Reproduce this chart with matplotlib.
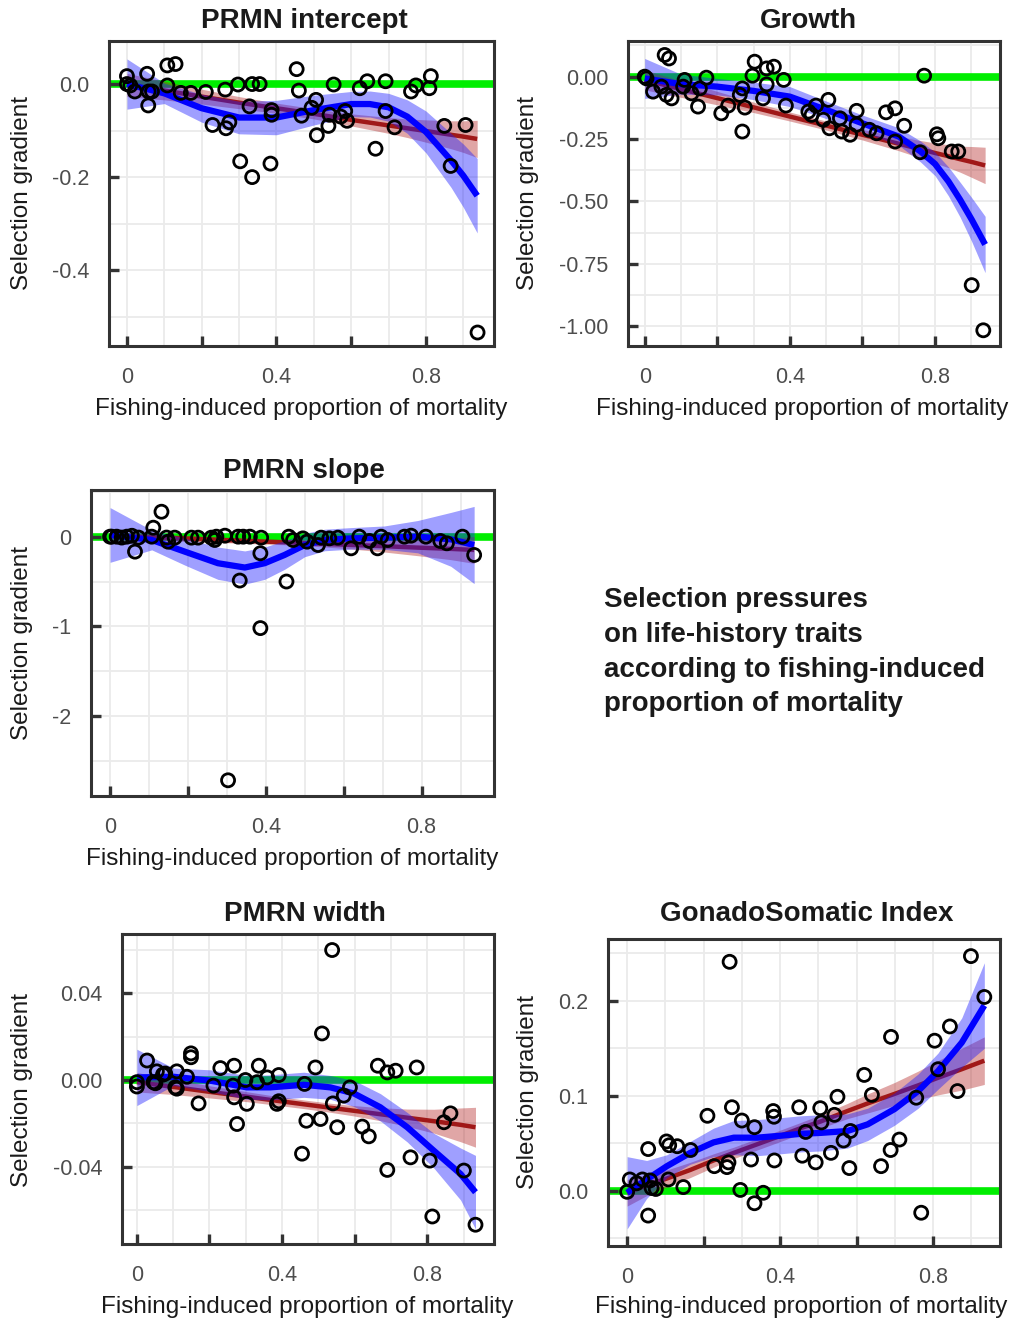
import numpy as np
import matplotlib
matplotlib.use("Agg")
import matplotlib.pyplot as plt
from matplotlib.ticker import FixedLocator

plt.rcParams['font.family'] = ['Liberation Sans', 'DejaVu Sans']
plt.rcParams['axes.unicode_minus'] = False

W, H = 1018, 1323

# ---- PRMN intercept ----
int_x = [0.000, 0.000, 0.009, 0.021, 0.054, 0.058, 0.057, 0.067, 0.108, 0.130, 0.108, 0.144,
         0.171, 0.211, 0.229, 0.263, 0.265, 0.274, 0.297, 0.303, 0.328, 0.335, 0.355, 0.335,
         0.384, 0.387, 0.387, 0.454, 0.460, 0.467, 0.494, 0.506, 0.508, 0.539, 0.542, 0.553,
         0.572, 0.584, 0.589, 0.623, 0.643, 0.665, 0.692, 0.692, 0.716, 0.760, 0.773, 0.809,
         0.813, 0.849, 0.866, 0.906, 0.938]
int_y = [0.017, 0.000, -0.003, -0.016, 0.022, -0.016, -0.046, -0.016, 0.040, 0.043, -0.003, -0.019,
         -0.019, -0.017, -0.088, -0.012, -0.095, -0.082, -0.001, -0.166, -0.048, 0.000, 0.000, -0.200,
         -0.171, -0.056, -0.066, 0.032, -0.014, -0.068, -0.051, -0.034, -0.110, -0.090, -0.066, -0.001,
         -0.070, -0.058, -0.079, -0.009, 0.006, -0.139, 0.006, -0.058, -0.093, -0.016, -0.003, -0.009,
         0.017, -0.090, -0.176, -0.088, -0.534]
int_cx = [0.0, 0.1, 0.2, 0.3, 0.4, 0.5, 0.6, 0.65, 0.7, 0.75, 0.8, 0.867, 0.9, 0.937]
int_blue = [0.000, -0.020, -0.052, -0.072, -0.072, -0.056, -0.043, -0.043, -0.050, -0.070, -0.103, -0.164, -0.197, -0.240]
int_blue_se = [0.054, 0.022, 0.030, 0.035, 0.037, 0.032, 0.027, 0.028, 0.030, 0.036, 0.045, 0.058, 0.068, 0.080]
int_red = [-0.002, -0.014, -0.027, -0.040, -0.052, -0.064, -0.077, -0.083, -0.089, -0.095, -0.101, -0.109, -0.113, -0.118]
int_red_se = [0.025, 0.020, 0.016, 0.013, 0.011, 0.011, 0.013, 0.015, 0.017, 0.020, 0.024, 0.030, 0.034, 0.040]

# ---- Growth ----
gr_x = [0.000, 0.005, 0.023, 0.046, 0.055, 0.067, 0.060, 0.074, 0.110, 0.106, 0.129, 0.147,
        0.152, 0.170, 0.211, 0.230, 0.269, 0.262, 0.269, 0.276, 0.297, 0.303, 0.326, 0.336,
        0.336, 0.356, 0.383, 0.389, 0.451, 0.472, 0.460, 0.506, 0.492, 0.509, 0.538, 0.543,
        0.566, 0.584, 0.584, 0.619, 0.639, 0.665, 0.690, 0.690, 0.715, 0.759, 0.770, 0.805,
        0.809, 0.846, 0.864, 0.901, 0.933]
gr_y = [0.000, -0.007, -0.060, -0.040, 0.087, 0.073, -0.073, -0.087, -0.013, -0.040, -0.067, -0.120,
        -0.047, -0.004, -0.147, -0.116, -0.047, -0.073, -0.220, -0.124, 0.004, 0.060, -0.087, -0.031,
        0.033, 0.040, -0.013, -0.116, -0.140, -0.116, -0.153, -0.093, -0.173, -0.207, -0.167, -0.220,
        -0.233, -0.137, -0.193, -0.213, -0.227, -0.143, -0.127, -0.260, -0.197, -0.303, 0.004, -0.231,
        -0.247, -0.300, -0.300, -0.836, -1.017]
gr_cx = [0.0, 0.1, 0.2, 0.3, 0.4, 0.5, 0.6, 0.7, 0.76, 0.8, 0.837, 0.869, 0.901, 0.938]
gr_blue = [-0.007, -0.030, -0.040, -0.057, -0.080, -0.133, -0.187, -0.240, -0.300, -0.350, -0.420, -0.493, -0.573, -0.673]
gr_blue_se = [0.080, 0.040, 0.033, 0.035, 0.040, 0.035, 0.033, 0.035, 0.042, 0.047, 0.058, 0.070, 0.088, 0.113]
gr_red = [-0.013, -0.050, -0.086, -0.123, -0.160, -0.196, -0.233, -0.269, -0.291, -0.306, -0.319, -0.331, -0.342, -0.356]
gr_red_se = [0.040, 0.033, 0.027, 0.021, 0.018, 0.018, 0.021, 0.028, 0.035, 0.040, 0.046, 0.052, 0.062, 0.073]

# ---- PMRN slope ----
sl_x = [0.000, 0.004, 0.017, 0.030, 0.043, 0.056, 0.064, 0.073, 0.107, 0.111, 0.132, 0.145,
        0.149, 0.166, 0.209, 0.226, 0.260, 0.269, 0.273, 0.295, 0.329, 0.342, 0.359, 0.388,
        0.333, 0.303, 0.386, 0.386, 0.453, 0.459, 0.470, 0.495, 0.506, 0.534, 0.542, 0.563,
        0.585, 0.619, 0.640, 0.666, 0.687, 0.696, 0.713, 0.756, 0.773, 0.811, 0.848, 0.865,
        0.905, 0.935]
sl_y = [0.000, 0.000, 0.000, -0.010, 0.000, 0.010, -0.167, -0.010, 0.000, 0.100, 0.278, -0.010,
        -0.056, -0.011, -0.011, -0.011, -0.011, -0.037, 0.000, 0.011, 0.000, 0.000, 0.000, -0.011,
        -0.489, -2.715, -0.185, -1.019, -0.500, 0.000, -0.037, -0.019, -0.056, -0.093, -0.011, -0.019,
        -0.011, -0.130, 0.000, -0.048, -0.130, 0.000, -0.037, 0.000, 0.011, 0.000, -0.048, -0.074,
        0.000, -0.204]
sl_cx = [0.0, 0.107, 0.192, 0.277, 0.346, 0.397, 0.448, 0.5, 0.551, 0.619, 0.704, 0.79, 0.875, 0.935]
sl_blue = [0.019, -0.037, -0.167, -0.296, -0.344, -0.296, -0.204, -0.093, -0.037, -0.019, -0.011, 0.000, -0.030, -0.093]
sl_blue_se = [0.305, 0.110, 0.150, 0.180, 0.185, 0.180, 0.160, 0.130, 0.120, 0.120, 0.130, 0.180, 0.300, 0.430]
sl_red = [0.010, -0.007, -0.020, -0.035, -0.046, -0.055, -0.062, -0.071, -0.080, -0.092, -0.106, -0.122, -0.136, -0.148]
sl_red_se = [0.050, 0.040, 0.033, 0.030, 0.028, 0.028, 0.028, 0.030, 0.035, 0.045, 0.065, 0.090, 0.120, 0.150]

# ---- PMRN width ----
wd_x = [0.000, 0.000, 0.028, 0.046, 0.051, 0.055, 0.072, 0.078, 0.110, 0.110, 0.106, 0.138,
        0.149, 0.149, 0.170, 0.211, 0.230, 0.265, 0.268, 0.268, 0.276, 0.299, 0.303, 0.331,
        0.336, 0.359, 0.386, 0.391, 0.391, 0.455, 0.462, 0.467, 0.492, 0.506, 0.510, 0.538,
        0.540, 0.552, 0.570, 0.587, 0.621, 0.639, 0.664, 0.690, 0.690, 0.713, 0.754, 0.771,
        0.807, 0.814, 0.846, 0.864, 0.901, 0.933]
wd_y = [-0.0030, -0.0010, 0.0090, -0.0010, -0.0015, 0.0040, 0.0025, 0.0030, 0.0040, -0.0040, -0.0034, 0.0015,
        0.0123, 0.0105, -0.0108, -0.0026, 0.0055, -0.0026, 0.0066, -0.0080, -0.0203, 0.0000, -0.0110, -0.0010,
        0.0066, 0.0012, -0.0110, 0.0023, -0.0098, -0.0340, -0.0018, -0.0188, 0.0058, -0.0180, 0.0215, 0.0600,
        -0.0108, -0.0218, -0.0072, -0.0034, -0.0215, -0.0260, 0.0066, -0.0415, 0.0035, 0.0043, -0.0357, 0.0058,
        -0.0372, -0.0630, -0.0195, -0.0154, -0.0418, -0.0668]
wd_cx = [0.0, 0.101, 0.202, 0.303, 0.368, 0.46, 0.533, 0.598, 0.671, 0.745, 0.818, 0.892, 0.933]
wd_blue = [0.0012, 0.0015, -0.0003, -0.0034, -0.0034, -0.0022, -0.0034, -0.0062, -0.0126, -0.0218, -0.0326, -0.0434, -0.0518]
wd_blue_se = [0.0130, 0.0040, 0.0050, 0.0055, 0.0058, 0.0058, 0.0055, 0.0060, 0.0063, 0.0068, 0.0080, 0.0120, 0.0170]
wd_red = [-0.0010, -0.0032, -0.0055, -0.0077, -0.0092, -0.0112, -0.0128, -0.0142, -0.0158, -0.0174, -0.0190, -0.0207, -0.0218]
wd_red_se = [0.0045, 0.0035, 0.0028, 0.0023, 0.0021, 0.0020, 0.0021, 0.0024, 0.0030, 0.0040, 0.0055, 0.0078, 0.0092]

# ---- GonadoSomatic Index ----
gsi_x = [0.000, 0.007, 0.025, 0.040, 0.055, 0.055, 0.060, 0.064, 0.075, 0.103, 0.110, 0.108,
         0.131, 0.147, 0.166, 0.210, 0.228, 0.261, 0.265, 0.268, 0.274, 0.296, 0.300, 0.324,
         0.333, 0.333, 0.356, 0.382, 0.384, 0.385, 0.450, 0.458, 0.467, 0.493, 0.505, 0.508,
         0.533, 0.542, 0.550, 0.566, 0.581, 0.584, 0.620, 0.640, 0.664, 0.689, 0.690, 0.712,
         0.756, 0.769, 0.804, 0.813, 0.844, 0.864, 0.899, 0.934]
gsi_y = [-0.001, 0.012, 0.008, 0.012, 0.044, -0.026, 0.011, 0.003, 0.002, 0.052, 0.048, 0.012,
         0.047, 0.004, 0.043, 0.079, 0.026, 0.025, 0.030, 0.241, 0.088, 0.001, 0.074, 0.033,
         -0.013, 0.067, -0.002, 0.084, 0.078, 0.032, 0.088, 0.037, 0.062, 0.030, 0.087, 0.072,
         0.040, 0.080, 0.099, 0.053, 0.024, 0.063, 0.122, 0.101, 0.026, 0.043, 0.162, 0.054,
         0.098, -0.023, 0.158, 0.128, 0.173, 0.105, 0.247, 0.204]
gsi_cx = [0.0, 0.051, 0.104, 0.165, 0.226, 0.279, 0.34, 0.401, 0.454, 0.506, 0.576, 0.629, 0.699, 0.761, 0.813, 0.875, 0.934]
gsi_blue = [-0.002, 0.012, 0.026, 0.040, 0.051, 0.056, 0.056, 0.058, 0.060, 0.061, 0.063, 0.070, 0.086, 0.105, 0.126, 0.156, 0.195]
gsi_blue_se = [0.038, 0.020, 0.012, 0.012, 0.015, 0.018, 0.019, 0.019, 0.019, 0.019, 0.018, 0.017, 0.017, 0.018, 0.019, 0.026, 0.045]
gsi_red = [-0.002, 0.006, 0.013, 0.022, 0.032, 0.040, 0.049, 0.058, 0.066, 0.073, 0.084, 0.092, 0.102, 0.111, 0.119, 0.128, 0.137]
gsi_red_se = [0.014, 0.011, 0.009, 0.008, 0.007, 0.006, 0.006, 0.006, 0.006, 0.007, 0.008, 0.010, 0.012, 0.015, 0.018, 0.022, 0.025]

xlabel = 'Fishing-induced proportion of mortality'
ylabel = 'Selection gradient'

# panel box in pixels: left, top, right, bottom; text anchors in pixels
panels = [
    dict(title='PRMN intercept', box=(109, 41, 494, 346), xlim=(-0.048, 0.982), ylim=(-0.563, 0.0925),
         yticks=[-0.4, -0.2, 0.0], ylabels=['-0.4', '-0.2', '0.0'], ygrid=0.1,
         x=int_x, y=int_y, cx=int_cx, blue=int_blue, blue_se=int_blue_se, red=int_red, red_se=int_red_se,
         tpos=(304, 21), xpos=(301, 409), ypos=(22, 193)),
    dict(title='Growth', box=(628, 41, 1000, 346), xlim=(-0.046, 0.979), ylim=(-1.08, 0.143),
         yticks=[-1.0, -0.75, -0.5, -0.25, 0.0], ylabels=['-1.00', '-0.75', '-0.50', '-0.25', '0.00'], ygrid=0.125,
         x=gr_x, y=gr_y, cx=gr_cx, blue=gr_blue, blue_se=gr_blue_se, red=gr_red, red_se=gr_red_se,
         tpos=(808, 21), xpos=(802, 409), ypos=(528, 193)),
    dict(title='PMRN slope', box=(91, 490, 494, 796), xlim=(-0.049, 0.986), ylim=(-2.89, 0.52),
         yticks=[-2, -1, 0], ylabels=['-2', '-1', '0'], ygrid=0.5,
         x=sl_x, y=sl_y, cx=sl_cx, blue=sl_blue, blue_se=sl_blue_se, red=sl_red, red_se=sl_red_se,
         tpos=(304, 471), xpos=(292, 859), ypos=(22, 643)),
    dict(title='PMRN width', box=(122, 934, 494, 1244), xlim=(-0.041, 0.984), ylim=(-0.0757, 0.0674),
         yticks=[-0.04, 0.0, 0.04], ylabels=['-0.04', '0.00', '0.04'], ygrid=0.02,
         x=wd_x, y=wd_y, cx=wd_cx, blue=wd_blue, blue_se=wd_blue_se, red=wd_red, red_se=wd_red_se,
         tpos=(305, 914), xpos=(307, 1307), ypos=(22, 1090)),
    dict(title='GonadoSomatic Index', box=(608, 939, 1000, 1246), xlim=(-0.05, 0.975), ylim=(-0.058, 0.265),
         yticks=[0.0, 0.1, 0.2], ylabels=['0.0', '0.1', '0.2'], ygrid=0.05,
         x=gsi_x, y=gsi_y, cx=gsi_cx, blue=gsi_blue, blue_se=gsi_blue_se, red=gsi_red, red_se=gsi_red_se,
         tpos=(807, 914), xpos=(801, 1307), ypos=(528, 1092)),
]

fig = plt.figure(figsize=(W / 100, H / 100), dpi=100)


def fx(px):
    return px / W


def fy(py):
    return 1 - py / H


for p in panels:
    l, t, r, b = p['box']
    ax = fig.add_axes([fx(l), fy(b), (r - l) / W, (b - t) / H])
    ax.set_xlim(*p['xlim'])
    ax.set_ylim(*p['ylim'])

    # grid every 0.1 on x, every half-break on y
    gx = np.arange(0, 1.0, 0.1)
    step = p['ygrid']
    lo, hi = p['ylim']
    gy = np.arange(np.ceil(lo / step - 1e-9) * step, hi, step)
    for v in gx:
        ax.axvline(v, color='#ebebeb', lw=1.3, zorder=0)
    for v in gy:
        ax.axhline(v, color='#ebebeb', lw=1.3, zorder=0)

    ax.axhline(0, color='#00ee00', lw=5.5, zorder=1)

    cx = np.array(p['cx'])
    red = np.array(p['red'])
    red_se = np.array(p['red_se'])
    blue = np.array(p['blue'])
    blue_se = np.array(p['blue_se'])
    ax.fill_between(cx, red - red_se, red + red_se, color='#b22222', alpha=0.4, lw=0, zorder=2)
    ax.plot(cx, red, color='#a01818', lw=3.2, zorder=3, solid_capstyle='butt')
    ax.fill_between(cx, blue - blue_se, blue + blue_se, color='#1a1aff', alpha=0.42, lw=0, zorder=4)
    ax.plot(cx, blue, color='#0000ff', lw=4.5, zorder=5, solid_capstyle='butt', solid_joinstyle='round')

    ax.scatter(p['x'], p['y'], s=88, facecolors='none', edgecolors='black', linewidths=2.0, zorder=6)

    ax.xaxis.set_major_locator(FixedLocator([0, 0.2, 0.4, 0.6, 0.8]))
    ax.set_xticklabels(['0', '', '0.4', '', '0.8'])
    ax.set_yticks(p['yticks'])
    ax.set_yticklabels(p['ylabels'])
    ax.tick_params(direction='in', length=7.5, width=2.4, color='#333333',
                   labelsize=15.5, labelcolor='#4d4d4d')
    ax.tick_params(axis='x', pad=15)
    ax.tick_params(axis='y', pad=14)
    for s in ax.spines.values():
        s.set_linewidth(2.2)
        s.set_color('#333333')
        s.set_zorder(7)

    fig.text(fx(p['tpos'][0]), fy(p['tpos'][1]), p['title'], ha='center', va='center',
             fontsize=20, fontweight='bold', color='#1a1a1a')
    fig.text(fx(p['xpos'][0]), fy(p['xpos'][1]), xlabel, ha='center', va='center',
             fontsize=17.5, color='#1a1a1a')
    fig.text(fx(p['ypos'][0]), fy(p['ypos'][1]), ylabel, ha='center', va='center',
             rotation=90, fontsize=17.5, color='#1a1a1a')

fig.text(fx(604), fy(587),
         'Selection pressures\non life-history traits\naccording to fishing-induced\nproportion of mortality',
         ha='left', va='top', fontsize=20, fontweight='bold', linespacing=1.44, color='#1a1a1a')

fig.savefig('out.png', dpi=100)
